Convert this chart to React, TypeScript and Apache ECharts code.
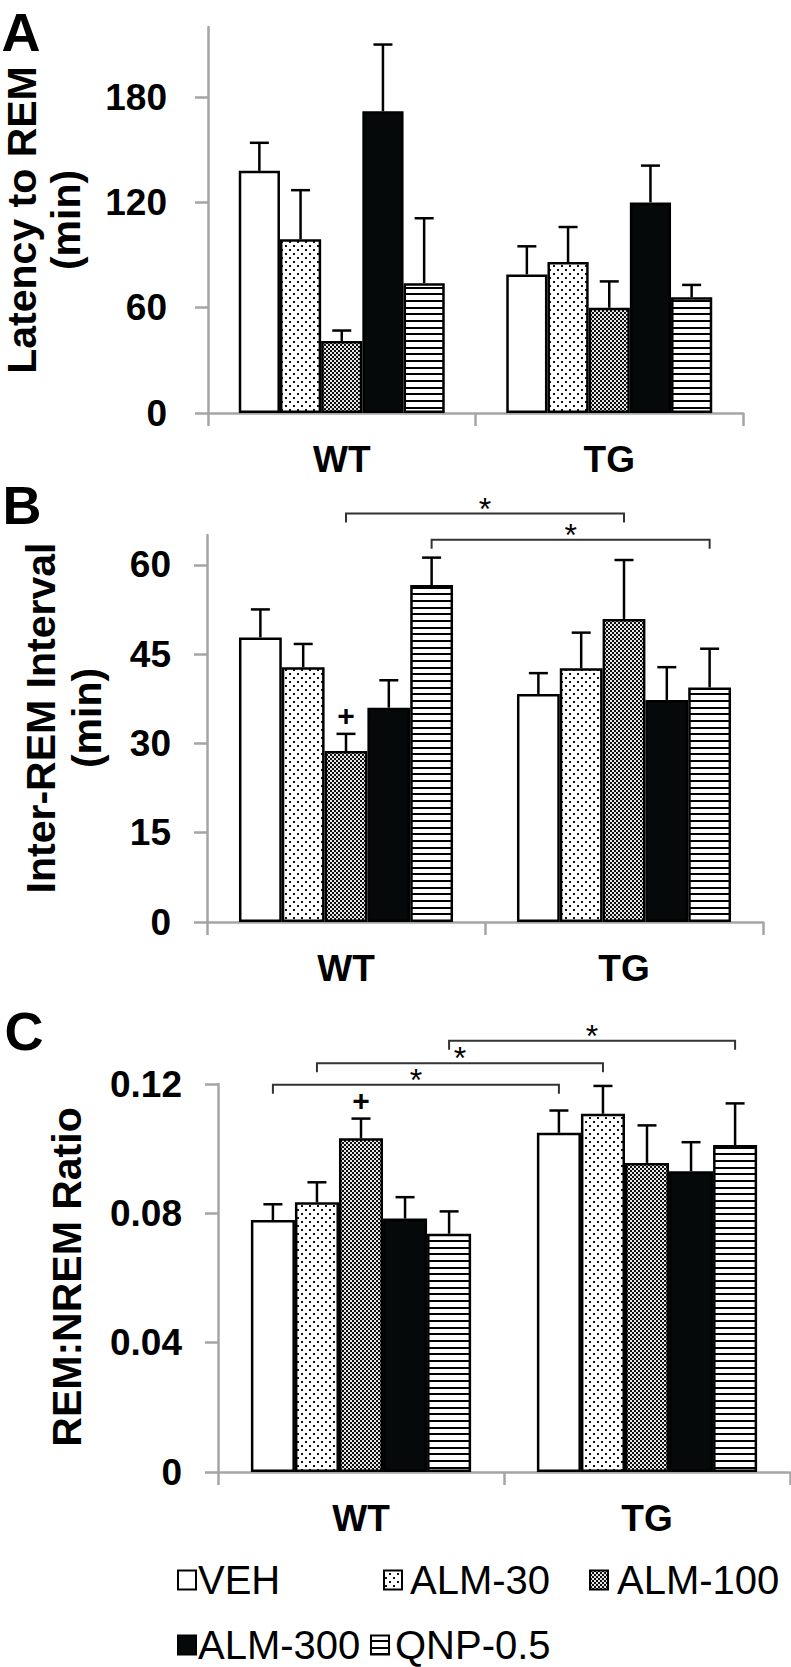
import React, { useEffect, useRef } from 'react';
import * as echarts from 'echarts';

// ---------- data ----------
const groups = ['WT', 'TG'];
const treatments = ['VEH', 'ALM-30', 'ALM-100', 'ALM-300', 'QNP-0.5'];

// Panel A: latency to REM (min)
const latencyWT = [138, 99, 41, 172, 74];
const latencyTG = [79, 86, 60, 120, 66];
const latencyErrWT = [16, 28, 6, 38, 37];
const latencyErrTG = [16, 20, 15, 21, 7];
const latencyTicks = [0, 60, 120, 180];
const latencyMax = 220;

// Panel B: inter-REM interval (min)
const intervalWT = [47.8, 42.8, 28.7, 36.0, 56.6];
const intervalTG = [38.3, 42.6, 50.9, 37.3, 39.4];
const intervalErrWT = [4.7, 3.9, 2.9, 4.6, 4.6];
const intervalErrTG = [3.5, 6.0, 9.9, 5.5, 6.5];
const intervalTicks = [0, 15, 30, 45, 60];
const intervalMax = 65;
// [groupFrom, treatmentFrom, groupTo, treatmentTo, level]
const intervalBrackets = [
  [0, 2, 1, 2, 68.6],
  [0, 4, 1, 4, 64.2],
];
const intervalPlus = [[0, 2]];

// Panel C: REM:NREM ratio
const ratioWT = [0.0779, 0.0834, 0.1032, 0.0784, 0.0737];
const ratioTG = [0.1049, 0.1108, 0.0956, 0.093, 0.1011];
const ratioErrWT = [0.0049, 0.0062, 0.0061, 0.0066, 0.0069];
const ratioErrTG = [0.0069, 0.0086, 0.0116, 0.009, 0.0129];
const ratioTicks = [0, 0.04, 0.08, 0.12];
const ratioMax = 0.12;
const ratioBrackets = [
  [0, 0, 1, 0, 0.1198],
  [0, 1, 1, 1, 0.1264],
  [0, 4, 1, 4, 0.1334],
];
const ratioPlus = [[0, 2]];

// ---------- style ----------
const FONT = '"Liberation Sans", Arial, Helvetica, sans-serif';
const AXIS_GRAY = '#a5a5a5';
const GROUP_FRACTION = 0.77;

function makePattern(w: number, h: number, draw: (ctx: CanvasRenderingContext2D) => void): any {
  const c = document.createElement('canvas');
  c.width = w;
  c.height = h;
  const ctx = c.getContext('2d')!;
  draw(ctx);
  return { image: c, repeat: 'repeat', imageWidth: w, imageHeight: h };
}

function buildFills() {
  const dots = makePattern(8, 8, (ctx) => {
    ctx.fillStyle = '#ffffff';
    ctx.fillRect(0, 0, 8, 8);
    ctx.fillStyle = '#111111';
    ctx.fillRect(1, 1, 2, 2);
    ctx.fillRect(5, 5, 2, 2);
  });
  const dense = makePattern(4, 4, (ctx) => {
    ctx.fillStyle = '#e6e6e6';
    ctx.fillRect(0, 0, 4, 4);
    ctx.fillStyle = '#111111';
    ctx.fillRect(0, 0, 2, 2);
    ctx.fillRect(2, 2, 2, 2);
  });
  const lines = makePattern(4, 20, (ctx) => {
    ctx.fillStyle = '#ffffff';
    ctx.fillRect(0, 0, 4, 20);
    ctx.fillStyle = '#000000';
    ctx.fillRect(0, 0, 4, 2);
    ctx.fillRect(0, 7, 4, 2);
    ctx.fillRect(0, 13, 4, 2);
  });
  return ['#ffffff', dots, dense, '#060909', lines];
}

function buildOption() {
  const fills = buildFills();

  const panels = [
    {
      wt: latencyWT, tg: latencyTG, ewt: latencyErrWT, etg: latencyErrTG,
      ticks: latencyTicks, max: latencyMax, brackets: [] as number[][], plus: [] as number[][],
      grid: { left: 208, top: 27, width: 535, height: 386 }, labelMargin: 41,
      fmt: (v: number) => String(v),
      titles: [{ text: 'Latency to REM', x: 22 }, { text: '(min)', x: 66 }], titleY: 220,
      letter: 'A', lx: 21, ly: 32,
    },
    {
      wt: intervalWT, tg: intervalTG, ewt: intervalErrWT, etg: intervalErrTG,
      ticks: intervalTicks, max: intervalMax, brackets: intervalBrackets, plus: intervalPlus,
      grid: { left: 207, top: 535, width: 556, height: 387 }, labelMargin: 36,
      fmt: (v: number) => String(v),
      titles: [{ text: 'Inter-REM Interval', x: 41 }, { text: '(min)', x: 87 }], titleY: 718,
      letter: 'B', lx: 22, ly: 505,
    },
    {
      wt: ratioWT, tg: ratioTG, ewt: ratioErrWT, etg: ratioErrTG,
      ticks: ratioTicks, max: ratioMax, brackets: ratioBrackets, plus: ratioPlus,
      grid: { left: 218, top: 1084, width: 572, height: 388 }, labelMargin: 36,
      fmt: (v: number) => (v === 0 ? '0' : v.toFixed(2)),
      titles: [{ text: 'REM:NREM Ratio', x: 67 }], titleY: 1277,
      letter: 'C', lx: 24, ly: 1031,
    },
  ];

  const grids: any[] = [];
  const xAxes: any[] = [];
  const yAxes: any[] = [];
  const series: any[] = [];
  const graphics: any[] = [];

  const axisLineStyle = { color: AXIS_GRAY, width: 2.5 };

  panels.forEach((p, pi) => {
    grids.push({ ...p.grid, containLabel: false, outerBoundsMode: 'none' });
    xAxes.push({
      type: 'category', gridIndex: pi, data: groups,
      axisLine: { show: true, lineStyle: axisLineStyle },
      axisTick: { show: true, length: 13, lineStyle: axisLineStyle },
      axisLabel: { margin: 28, fontSize: 37, fontWeight: 'bold', color: '#000', fontFamily: FONT },
      splitLine: { show: false },
    });
    yAxes.push({
      type: 'value', gridIndex: pi, min: 0, max: p.max,
      interval: p.ticks[1],
      axisLine: { show: true, lineStyle: axisLineStyle },
      axisTick: { show: true, length: 13, lineStyle: axisLineStyle, customValues: p.ticks },
      axisLabel: {
        margin: p.labelMargin, fontSize: 37, fontWeight: 'bold', color: '#000', fontFamily: FONT,
        customValues: p.ticks, formatter: p.fmt,
      },
      splitLine: { show: false },
    });

    treatments.forEach((t, ti) => {
      series.push({
        type: 'bar', name: t, xAxisIndex: pi, yAxisIndex: pi,
        data: [p.wt[ti], p.tg[ti]],
        barGap: '0%', barCategoryGap: `${Math.round((1 - GROUP_FRACTION) * 100)}%`,
        itemStyle: { color: fills[ti], borderColor: '#000', borderWidth: 2.5 },
        emphasis: { disabled: true }, silent: true,
      });
    });

    // error bars: [group, treatment, mean, mean + sem]
    const errData: number[][] = [];
    treatments.forEach((_, ti) => {
      errData.push([0, ti, p.wt[ti], p.wt[ti] + p.ewt[ti]]);
      errData.push([1, ti, p.tg[ti], p.tg[ti] + p.etg[ti]]);
    });
    series.push({
      type: 'custom', xAxisIndex: pi, yAxisIndex: pi, data: errData,
      encode: { x: 0, y: [2, 3] }, silent: true, z: 5, clip: false,
      renderItem: (params: any, api: any) => {
        const bw = (api.size([1, 0])[0] * GROUP_FRACTION) / treatments.length;
        const base = api.coord([api.value(0), api.value(2)]);
        const top = api.coord([api.value(0), api.value(3)]);
        const x = base[0] + (api.value(1) - (treatments.length - 1) / 2) * bw;
        return {
          type: 'group',
          children: [
            { type: 'line', shape: { x1: x, y1: base[1], x2: x, y2: top[1] }, style: { stroke: '#000', lineWidth: 2.5 } },
            { type: 'line', shape: { x1: x - 9.5, y1: top[1], x2: x + 9.5, y2: top[1] }, style: { stroke: '#000', lineWidth: 2.5 } },
          ],
        };
      },
    });

    // significance brackets
    if (p.brackets.length) {
      series.push({
        type: 'custom', xAxisIndex: pi, yAxisIndex: pi, data: p.brackets,
        encode: { x: 0, y: 4 }, silent: true, z: 6, clip: false,
        renderItem: (params: any, api: any) => {
          const bw = (api.size([1, 0])[0] * GROUP_FRACTION) / treatments.length;
          const a = api.coord([api.value(0), api.value(4)]);
          const b = api.coord([api.value(2), api.value(4)]);
          const mid = (treatments.length - 1) / 2;
          const x1 = a[0] + (api.value(1) - mid) * bw;
          const x2 = b[0] + (api.value(3) - mid) * bw;
          const y = a[1];
          return {
            type: 'group',
            children: [
              {
                type: 'polyline',
                shape: { points: [[x1, y + 9], [x1, y], [x2, y], [x2, y + 9]] },
                style: { stroke: '#333', lineWidth: 2, fill: null },
              },
              {
                type: 'text',
                style: {
                  text: '*', x: (x1 + x2) / 2, y: y - 5,
                  textAlign: 'center', textVerticalAlign: 'middle',
                  font: `normal 32px ${FONT}`, fill: '#000',
                },
              },
            ],
          };
        },
      });
    }

    // "+" markers above error bars
    if (p.plus.length) {
      const plusData = p.plus.map(([g, ti]) => {
        const top = g === 0 ? p.wt[ti] + p.ewt[ti] : p.tg[ti] + p.etg[ti];
        return [g, ti, top];
      });
      series.push({
        type: 'custom', xAxisIndex: pi, yAxisIndex: pi, data: plusData,
        encode: { x: 0, y: 2 }, silent: true, z: 6, clip: false,
        renderItem: (params: any, api: any) => {
          const bw = (api.size([1, 0])[0] * GROUP_FRACTION) / treatments.length;
          const c = api.coord([api.value(0), api.value(2)]);
          const x = c[0] + (api.value(1) - (treatments.length - 1) / 2) * bw;
          return {
            type: 'text',
            style: {
              text: '+', x, y: c[1] - 18,
              textAlign: 'center', textVerticalAlign: 'middle',
              font: `bold 30px ${FONT}`, fill: '#000',
            },
          };
        },
      });
    }

    // axis titles & panel letters
    p.titles.forEach((t) => {
      graphics.push({
        type: 'text', x: t.x, y: p.titleY, rotation: Math.PI / 2,
        style: { text: t.text, textAlign: 'center', textVerticalAlign: 'middle', font: `bold 41px ${FONT}`, fill: '#000' },
      });
    });
    graphics.push({
      type: 'text', x: p.lx, y: p.ly,
      style: { text: p.letter, textAlign: 'center', textVerticalAlign: 'middle', font: `bold 54px ${FONT}`, fill: '#000' },
    });
  });

  // legend
  const legendItems = [
    { sq: 178, tx: 198, y: 1580 },
    { sq: 384, tx: 410, y: 1580 },
    { sq: 590, tx: 617, y: 1580 },
    { sq: 178, tx: 198, y: 1645 },
    { sq: 371, tx: 395, y: 1645 },
  ];
  legendItems.forEach((it, i) => {
    graphics.push({
      type: 'rect', shape: { x: it.sq, y: it.y - 9.5, width: 18, height: 19 },
      style: { fill: fills[i], stroke: '#000', lineWidth: 2 },
    });
    graphics.push({
      type: 'text', x: it.tx, y: it.y,
      style: { text: treatments[i], textAlign: 'left', textVerticalAlign: 'middle', font: `normal 40px ${FONT}`, fill: '#000' },
    });
  });

  return {
    animation: false,
    backgroundColor: '#ffffff',
    grid: grids,
    xAxis: xAxes,
    yAxis: yAxes,
    series,
    graphic: graphics,
  };
}

export default function App() {
  const ref = useRef<HTMLDivElement>(null);
  useEffect(() => {
    document.body.style.margin = '0';
    const chart = echarts.init(ref.current!, null, { renderer: 'svg' });
    chart.setOption(buildOption() as any);
    return () => chart.dispose();
  }, []);
  return <div ref={ref} style={{ width: 791, height: 1667 }} />;
}
